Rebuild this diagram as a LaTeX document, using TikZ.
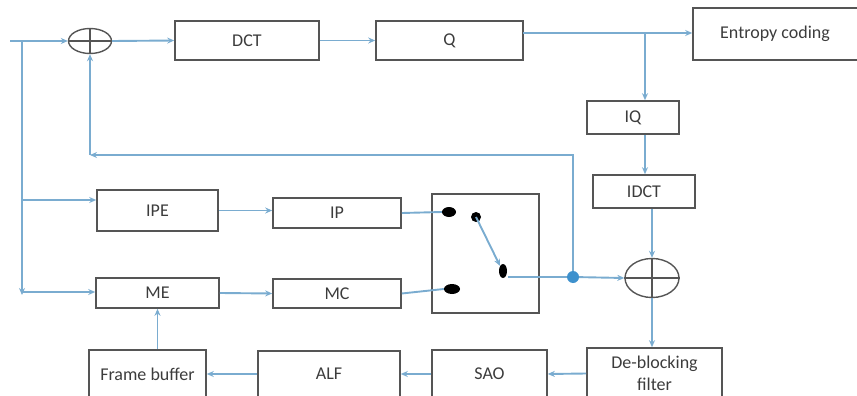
\documentclass[tikz,border=0pt]{standalone}
\usepackage{fontspec}
\setmainfont{Carlito}
\usetikzlibrary{arrows.meta,shapes.geometric}
\definecolor{lineblue}{RGB}{122,172,208}
\definecolor{dotblue}{RGB}{62,145,205}
\definecolor{boxgray}{RGB}{85,85,85}
\definecolor{txtgray}{RGB}{60,60,60}
\begin{document}
\begin{tikzpicture}[x=1pt,y=-1pt,
  blk/.style={draw=boxgray,line width=1.6pt,rectangle,inner sep=0pt,text=txtgray,
    font=\fontsize{18}{21}\selectfont,align=center},
  sumnode/.style={draw=boxgray,line width=1.4pt,ellipse,inner sep=0pt},
  conn/.style={draw=lineblue,line width=1.9pt},
  arr/.style={conn,-{Stealth[length=7pt,width=6pt]}},
  swdot/.style={fill=black,draw=none,ellipse,inner sep=0pt}]
\useasboundingbox (0,0) rectangle (857,396);
\clip (0,0) rectangle (857,396);
% boxes
\node[blk,minimum width=144pt,minimum height=39pt] (dct) at (247,40.5) {DCT};
\node[blk,minimum width=147pt,minimum height=39pt] (q) at (449.5,40.5) {Q};
\node[blk,minimum width=177pt,minimum height=52pt] (ent) at (781.5,34) {\hspace*{-3pt}Entropy coding\hspace*{10pt}};
\node[blk,minimum width=92pt,minimum height=33pt] (iq) at (633,117.5) {IQ};
\node[blk,minimum width=102pt,minimum height=33pt] (idct) at (644,191.5) {IDCT};
\node[blk,minimum width=121pt,minimum height=41pt] (ipe) at (157.5,210.5) {IPE};
\node[blk,minimum width=128pt,minimum height=30pt] (ip) at (337,213) {IP};
\node[blk,minimum width=123pt,minimum height=30pt] (me) at (157.5,293) {ME};
\node[blk,minimum width=128pt,minimum height=29pt] (mc) at (337,293.5) {MC};
\node[blk,minimum width=107pt,minimum height=119pt] (sw) at (485.5,253.5) {};
\node[blk,minimum width=135pt,minimum height=51pt] (dbf) at (654.5,373.5) {De-blocking\\[1pt]filter};
\node[blk,minimum width=115pt,minimum height=48pt] (sao) at (489.5,374) {SAO};
\node[blk,minimum width=142pt,minimum height=46pt] (alf) at (329,374) {ALF};
\node[blk,minimum width=117pt,minimum height=48pt] (fb) at (147.5,374) {Frame buffer};
% summing junctions
\node[sumnode,minimum width=43pt,minimum height=25pt] (s1) at (90,41) {};
\draw[boxgray,line width=1.2pt] (s1.north) -- (s1.south) (s1.west) -- (s1.east);
\node[sumnode,minimum width=54pt,minimum height=39pt] (s2) at (652,278) {};
\draw[boxgray,line width=1.2pt] (s2.north) -- (s2.south) (s2.west) -- (s2.east);
% switch contacts
\node[swdot,minimum width=14pt,minimum height=10pt] (d1) at (449,212) {};
\node[swdot,minimum width=10pt,minimum height=10pt] (d2) at (476,217) {};
\node[swdot,minimum width=8pt,minimum height=14pt] (d3) at (503,271) {};
\node[swdot,minimum width=16pt,minimum height=10pt] (d4) at (452,289) {};
\node[circle,fill=dotblue,inner sep=0pt,minimum size=12pt] (jn) at (573,277) {};
% coordinates
\coordinate (in) at (10,41);
\coordinate (ja) at (22,41);
\coordinate (jb) at (22,295);
\coordinate (jipe) at (22,200);
\coordinate (jme) at (22,292);
\coordinate (qo) at (523,33);
\coordinate (bq) at (645,33);
\coordinate (fbk) at (90,155);
\coordinate (sro) at (508,277);
% connectors
\draw[arr] (in) -- (s1.west);
\draw[arr] (ja) -- (jb);
\draw[arr] (jipe) -- (jipe -| ipe.west);
\draw[arr] (jme) -- (jme -| me.west);
\draw[arr] (s1.east) -- (dct.west);
\draw[arr] (dct.east) -- (q.west);
\draw[arr] (qo) -- (qo -| ent.west);
\draw[arr] (bq) -- (bq |- iq.north);
\draw[arr] (bq |- iq.south) -- (bq |- idct.north);
\draw[arr] (s2 |- idct.south) -- (s2.north);
\draw[arr] (s2.south) -- (s2.south |- dbf.north);
\draw[arr] (dbf.west) -- (sao.east);
\draw[arr] (sao.west) -- (alf.east);
\draw[arr] (alf.west) -- (fb.east);
\draw[arr] (me.south |- fb.north) -- (me.south);
\draw[arr] (me.east) -- (mc.west);
\draw[arr] (ipe.east) -- (ipe.east -| ip.west);
\draw[conn] (ip.east) -- (d1.west);
\draw[conn] (mc.east) -- (d4.west);
\draw[arr] (d2.center) -- (d3.north west);
\draw[conn] (sro) -- (jn);
\draw[arr] (jn) -- (s2.west);
\draw[arr] (jn) |- (fbk);
\draw[arr] (fbk) -- (s1.south);
\end{tikzpicture}
\end{document}
